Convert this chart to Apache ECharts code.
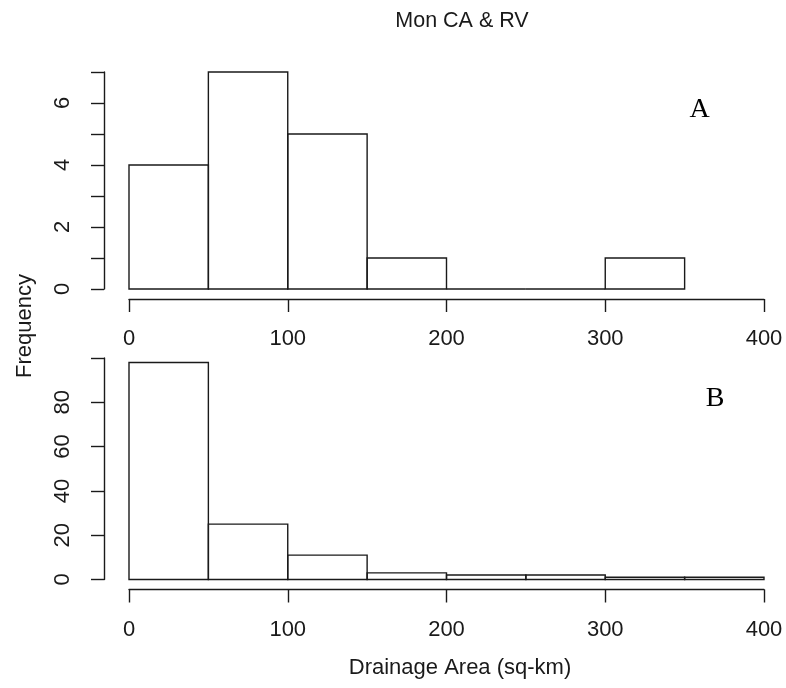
<!DOCTYPE html>
<html>
<head>
<meta charset="utf-8">
<script src="https://cdn.jsdelivr.net/npm/echarts@6/dist/echarts.min.js"></script>
<style>html,body{margin:0;padding:0;background:#fff;}#c{width:786px;height:688px;}</style>
</head>
<body>
<div id="c"></div>
<script>
// ---- data ----
const binEdges = [0, 50, 100, 150, 200, 250, 300, 350, 400];
const countsA = [4, 7, 5, 1, 0, 0, 1];
const countsB = [98, 25, 11, 3, 2, 2, 1, 1];
const xTickLabels = [0, 100, 200, 300, 400];
const yTickLabelsA = [0, 2, 4, 6];
const yTickLabelsB = [0, 20, 40, 60, 80];
const titleText = 'Mon CA & RV';
const xName = 'Drainage Area (sq-km)';
const yName = 'Frequency';

function binsData(counts) {
  return counts.map((c, i) => [binEdges[i], binEdges[i + 1], c]);
}

const FONT = 'Liberation Sans, Arial, sans-serif';
const LINE = '#1a1a1a';
const TXT = '#1a1a1a';

function renderItem(params, api) {
  const p0 = api.coord([api.value(0), api.value(2)]);
  const p1 = api.coord([api.value(1), 0]);
  return {
    type: 'rect',
    shape: { x: p0[0], y: p0[1], width: p1[0] - p0[0], height: p1[1] - p0[1] },
    style: { fill: 'transparent', stroke: LINE, lineWidth: 1.4 }
  };
}

function xAxisCfg(idx) {
  return {
    gridIndex: idx, type: 'value', min: 0, max: 400, interval: 100, offset: 10,
    axisLine: { show: true, onZero: false, lineStyle: { color: LINE, width: 1.4 } },
    axisTick: { show: true, length: 13, lineStyle: { color: LINE, width: 1.4 } },
    splitLine: { show: false },
    axisLabel: {
      margin: 29, color: TXT, fontFamily: FONT, fontSize: 22,
      formatter: v => xTickLabels.indexOf(v) >= 0 ? String(v) : ''
    }
  };
}

function yAxisCfg(idx, max, interval, labels) {
  return {
    gridIndex: idx, type: 'value', min: 0, max: max, interval: interval, offset: 25,
    axisLine: { show: true, onZero: false, lineStyle: { color: LINE, width: 1.4 } },
    axisTick: { show: true, length: 13, lineStyle: { color: LINE, width: 1.4 } },
    splitLine: { show: false },
    axisLabel: {
      rotate: 90, margin: 30, color: TXT, fontFamily: FONT, fontSize: 22,
      formatter: v => labels.indexOf(v) >= 0 ? String(v) : ''
    }
  };
}

const chart = echarts.init(document.getElementById('c'), null, { renderer: 'canvas' });
chart.setOption({
  backgroundColor: '#fff',
  animation: false,
  grid: [
    { left: 129, width: 635, top: 72, height: 217 },
    { left: 129, width: 635, top: 358, height: 221.5 }
  ],
  xAxis: [xAxisCfg(0), xAxisCfg(1)],
  yAxis: [yAxisCfg(0, 7, 1, yTickLabelsA), yAxisCfg(1, 100, 20, yTickLabelsB)],
  series: [
    { type: 'custom', xAxisIndex: 0, yAxisIndex: 0, renderItem: renderItem,
      encode: { x: [0, 1], y: 2 }, data: binsData(countsA) },
    { type: 'custom', xAxisIndex: 1, yAxisIndex: 1, renderItem: renderItem,
      encode: { x: [0, 1], y: 2 }, data: binsData(countsB) }
  ],
  graphic: [
    { type: 'text', x: 462, y: 21, style: { text: titleText, font: '21.5px ' + FONT, fill: TXT, textAlign: 'center', textVerticalAlign: 'middle' } },
    { type: 'text', x: 25, y: 326, rotation: Math.PI / 2, style: { text: yName, font: '22px ' + FONT, fill: TXT, textAlign: 'center', textVerticalAlign: 'middle' } },
    { type: 'text', x: 460, y: 668, style: { text: xName, font: '22px ' + FONT, fill: TXT, textAlign: 'center', textVerticalAlign: 'middle' } },
    { type: 'text', x: 699.5, y: 110, style: { text: 'A', font: '28px Liberation Serif, Times New Roman, serif', fill: '#000', textAlign: 'center', textVerticalAlign: 'middle' } },
    { type: 'text', x: 715, y: 399, style: { text: 'B', font: '28px Liberation Serif, Times New Roman, serif', fill: '#000', textAlign: 'center', textVerticalAlign: 'middle' } }
  ]
});
</script>
</body>
</html>
